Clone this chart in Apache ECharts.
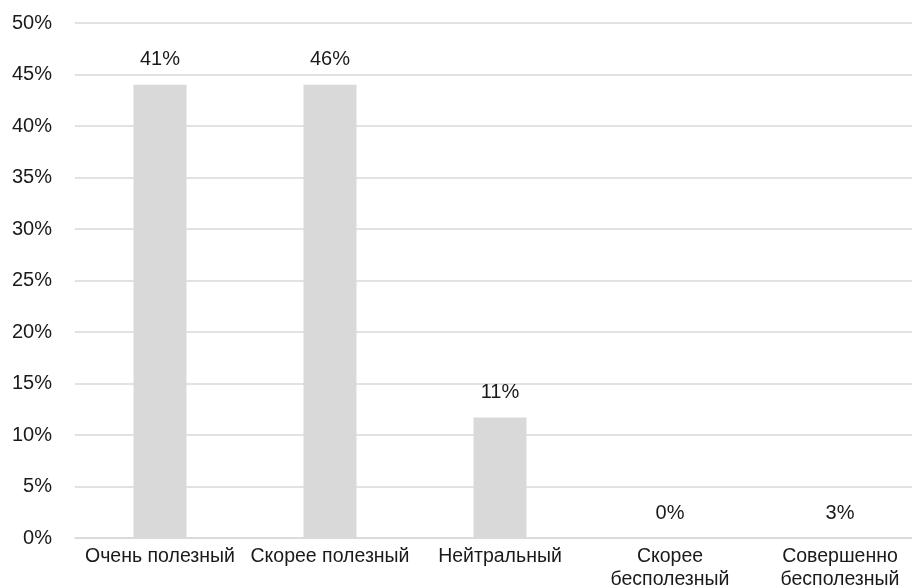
<!DOCTYPE html>
<html><head><meta charset="utf-8">
<script src="https://cdn.jsdelivr.net/npm/echarts@6/dist/echarts.min.js"></script>
<style>html,body{margin:0;padding:0;background:#fff;overflow:hidden}#c{width:912px;height:586px}</style>
</head><body><div id="c"></div>
<script>
const categories = ['Очень полезный', 'Скорее полезный', 'Нейтральный', 'Скорее\nбесполезный', 'Совершенно\nбесполезный'];
const barValues = [44, 44, 11.7, 0, 0];
const labelTexts = ['41%', '46%', '11%', '0%', '3%'];
const yTicks = [0, 5, 10, 15, 20, 25, 30, 35, 40, 45, 50];

const chart = echarts.init(document.getElementById('c'));
const font = "'Liberation Sans', Arial, sans-serif";
chart.setOption({
  animation: false,
  grid: {left: 75, top: 23, width: 850, height: 515, containLabel: false, outerBoundsMode: 'none'},
  xAxis: {
    type: 'category', data: categories,
    axisLine: {show: true, lineStyle: {color: '#d9d9d9', width: 1.5}},
    axisTick: {show: false},
    axisLabel: {color: '#1a1a1a', fontSize: 19.5, fontFamily: font, margin: 7, lineHeight: 23, interval: 0}
  },
  yAxis: {
    type: 'value', min: 0, max: 50, interval: 5,
    axisLine: {show: false}, axisTick: {show: false},
    splitLine: {lineStyle: {color: '#d9d9d9', width: 1.5}},
    axisLabel: {color: '#1a1a1a', fontSize: 20, fontFamily: font, margin: 23,
      formatter: v => yTicks.includes(v) ? v + '%' : ''}
  },
  series: [{
    type: 'bar', data: barValues, barWidth: 53,
    itemStyle: {color: '#d9d9d9'},
    label: {show: true, position: 'top', distance: 15, color: '#1a1a1a', fontSize: 20, fontFamily: font,
      formatter: p => labelTexts[p.dataIndex]}
  }]
});
</script></body></html>
